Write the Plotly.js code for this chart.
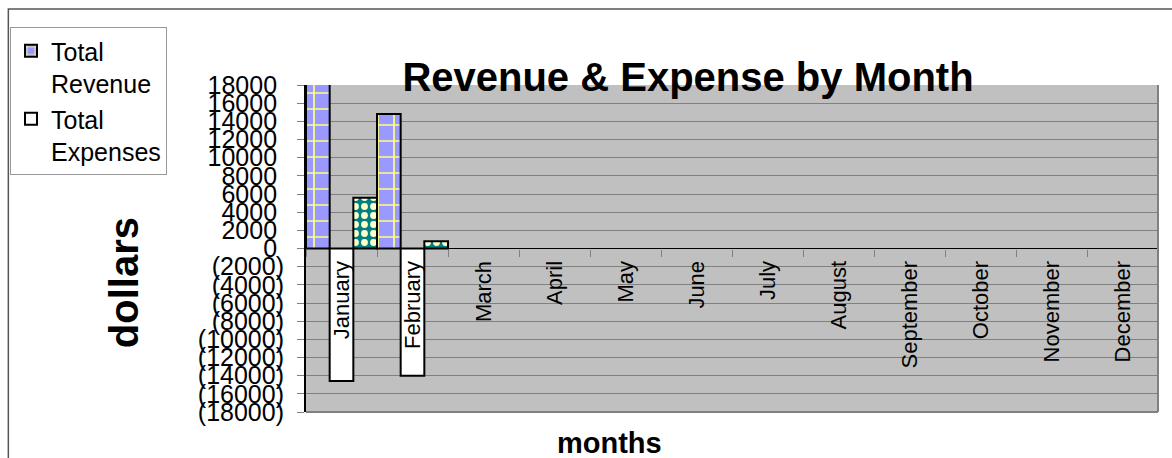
<!DOCTYPE html>
<html><head><meta charset="utf-8">
<script src="https://cdn.plot.ly/plotly-3.0.1.min.js"></script>
<style>html,body{margin:0;padding:0;background:#fff;overflow:hidden}#chart{width:1172px;height:458px;}</style>
</head><body><div id="chart"></div>
<script>
const months = ["January","February","March","April","May","June","July","August","September","October","November","December"];
const totalRevenue = [20200, 14800, null, null, null, null, null, null, null, null, null, null];
const totalExpenses = [-14600, -14000, null, null, null, null, null, null, null, null, null, null];
const netIncome = [5600, 800, null, null, null, null, null, null, null, null, null, null];
const yTickValues = [18000, 16000, 14000, 12000, 10000, 8000, 6000, 4000, 2000, 0, -2000, -4000, -6000, -8000, -10000, -12000, -14000, -16000, -18000];
const yTickLabels = ["18000\u00a0","16000\u00a0","14000\u00a0","12000\u00a0","10000\u00a0","8000\u00a0","6000\u00a0","4000\u00a0","2000\u00a0","0\u00a0","(2000)","(4000)","(6000)","(8000)","(10000)","(12000)","(14000)","(16000)","(18000)"];

const FONT = "Liberation Sans, Arial, sans-serif";
const W = 1172, H = 458, L = 305, R = 14, T = 85, B = 46;
const pw = W - L - R, ph = H - T - B;
const px = x => (x - L) / pw;
const py = y => (H - B - y) / ph;

const traces = [
  {type:'bar', x: months, y: totalRevenue, name: 'Total<br>Revenue',
   marker:{color:'#9999FF', line:{color:'#000', width:2},
     pattern:{shape:'+', fgcolor:'#FFFF80', bgcolor:'#9999FF', size:16, solidity:0.2, fillmode:'replace'}},
   hoverinfo:'skip'},
  {type:'bar', x: months, y: totalExpenses, name: 'Total<br>Expenses',
   marker:{color:'#FFFFFF', line:{color:'#000', width:2}}, hoverinfo:'skip'},
  {type:'bar', x: months, y: netIncome, name: 'Net Income', showlegend:false,
   marker:{color:'#008080', line:{color:'#000', width:2},
     pattern:{shape:'.', fgcolor:'#FFFFCC', bgcolor:'#008080', size:9, solidity:0.45, fillmode:'replace'}},
   hoverinfo:'skip'}
];

const layout = {
  width: W, height: H,
  margin:{l:L, r:R, t:T, b:B, pad:0},
  paper_bgcolor:'#FFFFFF', plot_bgcolor:'#C0C0C0',
  font:{family:FONT, color:'#000'},
  barmode:'group', bargap:0, bargroupgap:0,
  showlegend:true,
  title:{text:'Revenue & Expense by Month', font:{family:FONT, size:40, weight:'bold', color:'#000'},
    xref:'container', yref:'container', x:688/W, xanchor:'center', y:1-77/H, yanchor:'middle'},
  xaxis:{type:'category', range:[-0.5, 11.5], anchor:'free', position:0.5,
    tickson:'boundaries', ticks:'outside', ticklen:7, tickcolor:'#808080', tickwidth:1,
    tickangle:-90, tickfont:{family:FONT, size:22, color:'#000'}, ticklabelstandoff:7,
    showgrid:false, showline:false, zeroline:false, fixedrange:true},
  yaxis:{range:[-18000, 18000], tickmode:'array', tickvals:yTickValues, ticktext:yTickLabels,
    ticks:'outside', ticklen:7, tickcolor:'#808080', tickwidth:1,
    tickfont:{family:FONT, size:25, color:'#000'}, ticklabelstandoff:8,
    showgrid:true, gridcolor:'#808080', gridwidth:1,
    showline:true, linecolor:'#000', linewidth:2,
    zeroline:true, zerolinecolor:'#000', zerolinewidth:1.5, fixedrange:true},
  legend:{x:px(10), y:py(27), xanchor:'left', yanchor:'top', bgcolor:'#FFFFFF',
    bordercolor:'#999999', borderwidth:1, font:{family:FONT, size:25, color:'#000'},
    valign:'top', tracegroupgap:0, traceorder:'normal', entrywidth:181, entrywidthmode:'pixels'},
  annotations:[
    {text:'dollars', xref:'paper', yref:'paper', x:px(123), y:py(283), xanchor:'center', yanchor:'middle',
     textangle:-90, showarrow:false, font:{family:FONT, size:40, weight:'bold', color:'#000'}},
    {text:'months', xref:'paper', yref:'paper', x:px(609), y:py(443), xanchor:'center', yanchor:'middle',
     showarrow:false, font:{family:FONT, size:29, weight:'bold', color:'#000'}}
  ],
  shapes:[
    {type:'line', xref:'paper', yref:'paper', x0:1, x1:1, y0:0, y1:1, line:{color:'#808080', width:2}, layer:'above'},
    {type:'line', xref:'paper', yref:'paper', x0:0, x1:1, y0:0, y1:0, line:{color:'#808080', width:2}, layer:'above'},
    {type:'rect', xref:'paper', yref:'paper', x0:px(7), x1:px(1200), y0:py(500), y1:py(9), line:{color:'#555555', width:1.5}, fillcolor:'rgba(0,0,0,0)', layer:'above'}
  ]
};

Plotly.newPlot('chart', traces, layout, {displayModeBar:false, staticPlot:true});
</script>
</body></html>
